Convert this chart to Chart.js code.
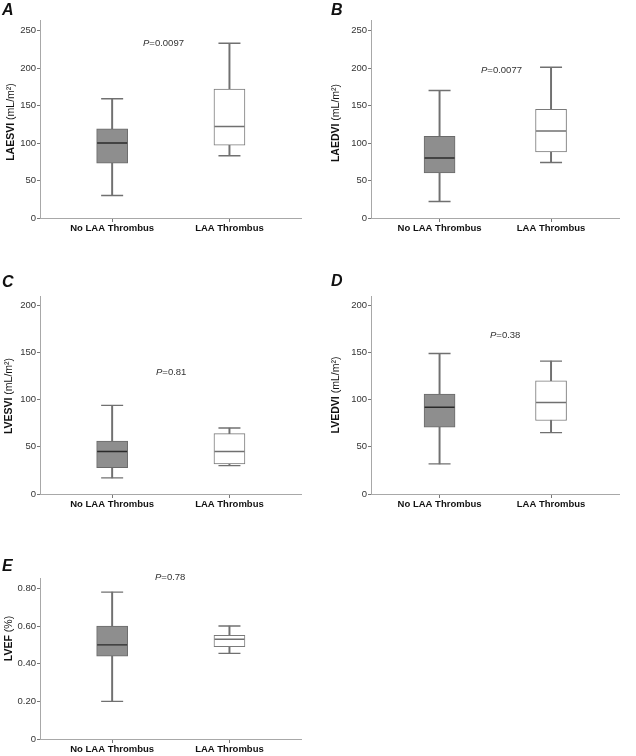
<!DOCTYPE html>
<html>
<head>
<meta charset="utf-8">
<script src="https://cdn.jsdelivr.net/npm/chart.js@4.4.0/dist/chart.umd.min.js"></script>
<style>
  body { margin: 0; background: #fff; font-family: Arial, "Liberation Sans", sans-serif; }
  #wrap { position: relative; width: 636px; height: 756px; overflow: hidden; }
  canvas { position: absolute; }
  .letter { position: absolute; font: italic bold 16px Arial, "Liberation Sans", sans-serif; line-height: 16px; color: #111; }
  .pval { position: absolute; font-size: 9.5px; line-height: 10px; color: #333; white-space: nowrap; }
</style>
</head>
<body>
<div id="wrap">
  <canvas id="chartA" width="318" height="245" style="left:0;top:0"></canvas>
  <canvas id="chartB" width="318" height="245" style="left:318px;top:0"></canvas>
  <canvas id="chartC" width="318" height="270" style="left:0;top:245px"></canvas>
  <canvas id="chartD" width="318" height="270" style="left:318px;top:245px"></canvas>
  <canvas id="chartE" width="318" height="241" style="left:0;top:515px"></canvas>

  <div class="letter" style="left:2px;top:2px">A</div>
  <div class="letter" style="left:331px;top:2px">B</div>
  <div class="letter" style="left:2px;top:274px">C</div>
  <div class="letter" style="left:331px;top:273px">D</div>
  <div class="letter" style="left:2px;top:558px">E</div>

  <div class="pval" style="left:143px;top:38px"><i>P</i>=0.0097</div>
  <div class="pval" style="left:481px;top:65px"><i>P</i>=0.0077</div>
  <div class="pval" style="left:156px;top:367px"><i>P</i>=0.81</div>
  <div class="pval" style="left:490px;top:330px"><i>P</i>=0.38</div>
  <div class="pval" style="left:155px;top:572px"><i>P</i>=0.78</div>
</div>
<script>
// groups on the x axis
var categories = ['No LAA Thrombus', 'LAA Thrombus'];

// box stats per group: [min, Q1, median, Q3, max]
var laesviNo  = [30, 73, 100, 119, 159];
var laesviYes = [83, 97, 122, 172, 233];
var laedviNo  = [22, 60, 80, 109, 170];
var laedviYes = [74, 88, 116, 145, 201];
var lvesviNo  = [17, 28, 45, 56, 94];
var lvesviYes = [30, 32, 45, 64, 70];
var lvedviNo  = [32, 71, 92, 106, 149];
var lvedviYes = [65, 78, 97, 120, 141];
var lvefNo    = [0.20, 0.44, 0.50, 0.60, 0.78];
var lvefYes   = [0.455, 0.49, 0.53, 0.55, 0.60];

// y tick labels
var ticksLA = [0, 50, 100, 150, 200, 250];
var ticksLV = [0, 50, 100, 150, 200];
var ticksEF = [0, 0.2, 0.4, 0.6, 0.8];

var FONT = 'Arial, "Liberation Sans", sans-serif';

// y axis title with bold name + normal unit
var yTitlePlugin = {
  id: 'yTitle',
  afterDraw: function(chart, args, opts) {
    var ctx = chart.ctx, area = chart.chartArea;
    var x = area.left - opts.dx;
    var y = (area.top + area.bottom) / 2 + opts.dy;
    ctx.save();
    ctx.translate(x, y);
    ctx.rotate(-Math.PI / 2);
    ctx.fillStyle = '#111';
    ctx.textBaseline = 'middle';
    ctx.textAlign = 'left';
    ctx.font = 'bold 10.5px ' + FONT;
    var w1 = ctx.measureText(opts.bold + ' ').width;
    ctx.font = '10.5px ' + FONT;
    var w2 = ctx.measureText(opts.normal).width;
    var start = -(w1 + w2) / 2;
    ctx.font = 'bold 10.5px ' + FONT;
    ctx.fillText(opts.bold, start, 0);
    ctx.font = '10.5px ' + FONT;
    ctx.fillText(opts.normal, start + w1, 0);
    ctx.restore();
  }
};

function boxDatasets(noStats, yesStats) {
  var groups = [noStats, yesStats];
  return [
    {
      type: 'bar', label: 'whisker',
      data: groups.map(function(s, i) { return {x: i + 1, y: [s[0], s[4]]}; }),
      backgroundColor: '#707070', borderWidth: 0, barThickness: 1.3, grouped: false, order: 3
    },
    {
      type: 'bar', label: 'box',
      data: groups.map(function(s, i) { return {x: i + 1, y: [s[1], s[3]]}; }),
      backgroundColor: ['#8e8e8e', '#ffffff'],
      borderColor: ['#6a6a6a', '#7a7a7a'],
      borderWidth: 1, borderSkipped: false, barThickness: 31, grouped: false, order: 2
    },
    {
      type: 'scatter', label: 'caps',
      data: groups.reduce(function(acc, s, i) {
        acc.push({x: i + 1, y: s[0]}, {x: i + 1, y: s[4]});
        return acc;
      }, []),
      pointStyle: 'line', pointRadius: 11, pointBorderColor: '#707070', pointBorderWidth: 1.3, order: 1
    },
    {
      type: 'scatter', label: 'median',
      data: groups.map(function(s, i) { return {x: i + 1, y: s[2]}; }),
      pointStyle: 'line', pointRadius: 15, pointBorderColor: ['#2a2a2a', '#707070'], pointBorderWidth: 1.4, order: 0
    }
  ];
}

function makePanel(id, noStats, yesStats, yTicks, yMax, fmt, p) {
  new Chart(document.getElementById(id), {
    type: 'bar',
    data: { datasets: boxDatasets(noStats, yesStats) },
    plugins: [yTitlePlugin],
    options: {
      responsive: false,
      animation: false,
      events: [],
      layout: { padding: { left: 0, right: p.right, top: p.top, bottom: 0 } },
      plugins: {
        legend: { display: false },
        tooltip: { enabled: false },
        yTitle: { bold: p.bold, normal: p.normal, dx: p.tdx, dy: p.tdy }
      },
      scales: {
        x: {
          type: 'linear', min: 0.385, max: 2.615, offset: false,
          afterFit: function(scale) { scale.height = p.xh; },
          afterBuildTicks: function(scale) {
            scale.ticks = categories.map(function(c, i) { return {value: i + 1}; });
          },
          ticks: {
            autoSkip: false, maxRotation: 0, padding: 1, color: '#111',
            font: { family: FONT, size: 9.5, weight: 'bold' },
            callback: function(v) { return categories[v - 1]; }
          },
          grid: { drawOnChartArea: false, offset: false, tickLength: 4, color: '#777' },
          border: { color: '#a8a8a8', width: 1 }
        },
        y: {
          type: 'linear', min: 0, max: yMax,
          afterFit: function(scale) { scale.width = p.yw; },
          afterBuildTicks: function(scale) {
            scale.ticks = yTicks.map(function(v) { return {value: v}; });
          },
          ticks: {
            padding: 1, color: '#333',
            font: { family: FONT, size: 9.5 },
            callback: fmt
          },
          grid: { drawOnChartArea: false, tickLength: 3, color: '#777' },
          border: { color: '#a8a8a8', width: 1 }
        }
      }
    }
  });
}

var plain = function(v) { return String(v); };
var dec2 = function(v) { return v === 0 ? '0' : v.toFixed(2); };

makePanel('chartA', laesviNo, laesviYes, ticksLA, 264, plain,
  { right: 13, top: 20, xh: 27, yw: 40, bold: 'LAESVI', normal: '(mL/m\u00B2)', tdx: 29, tdy: 3 });
makePanel('chartB', laedviNo, laedviYes, ticksLA, 264, plain,
  { right: 0, top: 20, xh: 27, yw: 53, bold: 'LAEDVI', normal: '(mL/m\u00B2)', tdx: 35, tdy: 4 });
makePanel('chartC', lvesviNo, lvesviYes, ticksLV, 210, plain,
  { right: 13, top: 51, xh: 21, yw: 40, bold: 'LVESVI', normal: '(mL/m\u00B2)', tdx: 31, tdy: 1 });
makePanel('chartD', lvedviNo, lvedviYes, ticksLV, 210, plain,
  { right: 0, top: 51, xh: 21, yw: 53, bold: 'LVEDVI', normal: '(mL/m\u00B2)', tdx: 35, tdy: 0 });
makePanel('chartE', lvefNo, lvefYes, ticksEF, 0.855, dec2,
  { right: 13, top: 63, xh: 17, yw: 40, bold: 'LVEF', normal: '(%)', tdx: 31, tdy: -20 });
</script>
</body>
</html>
